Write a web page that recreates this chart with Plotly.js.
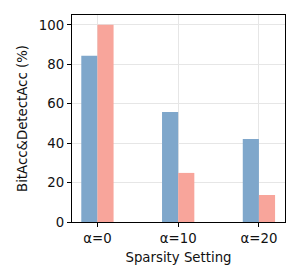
<!DOCTYPE html>
<html><head><meta charset="utf-8">
<script src="https://cdn.plot.ly/plotly-3.0.1.min.js"></script>
<style>html,body{margin:0;padding:0;background:#fff}</style>
</head><body>
<div id="chart" style="width:300px;height:280px"></div>
<script>
const categories = ["α=0", "α=10", "α=20"];
const bitAcc = [84.3, 55.8, 42.1];
const detectAcc = [100, 24.9, 13.7];
const xIdx = categories.map((c, i) => i);

const traces = [
  {type: "bar", x: xIdx, y: bitAcc, width: 0.2, offset: -0.2,
   marker: {color: "#7fa7cb", line: {width: 0}}, name: "BitAcc"},
  {type: "bar", x: xIdx, y: detectAcc, width: 0.2, offset: 0,
   marker: {color: "#f8a59b", line: {width: 0}}, name: "DetectAcc"}
];

const font = {family: "DejaVu Sans", size: 13.3, color: "#111"};
const layout = {
  width: 300, height: 280,
  margin: {l: 71.5, r: 14.5, t: 15.3, b: 58},
  paper_bgcolor: "#fff", plot_bgcolor: "#fff",
  showlegend: false,
  font: font,
  xaxis: {
    range: [-0.315, 2.323], tickmode: "array", tickvals: xIdx, ticktext: categories,
    showgrid: true, gridcolor: "#e6e6e6", gridwidth: 1,
    showline: true, linecolor: "#000", linewidth: 1.2, mirror: true,
    ticks: "outside", ticklen: 4, tickcolor: "#000", zeroline: false,
    tickfont: font,
    title: {text: "Sparsity Setting", font: font, standoff: 7}
  },
  yaxis: {
    range: [0, 105], tickvals: [0, 20, 40, 60, 80, 100],
    showgrid: true, gridcolor: "#e6e6e6", gridwidth: 1,
    showline: true, linecolor: "#000", linewidth: 1.2, mirror: true,
    ticks: "outside", ticklen: 4, tickcolor: "#000", zeroline: false,
    tickfont: font,
    title: {text: "BitAcc&DetectAcc (%)", font: font, standoff: 8}
  }
};
Plotly.newPlot("chart", traces, layout, {staticPlot: true, displayModeBar: false});
</script>
</body></html>
